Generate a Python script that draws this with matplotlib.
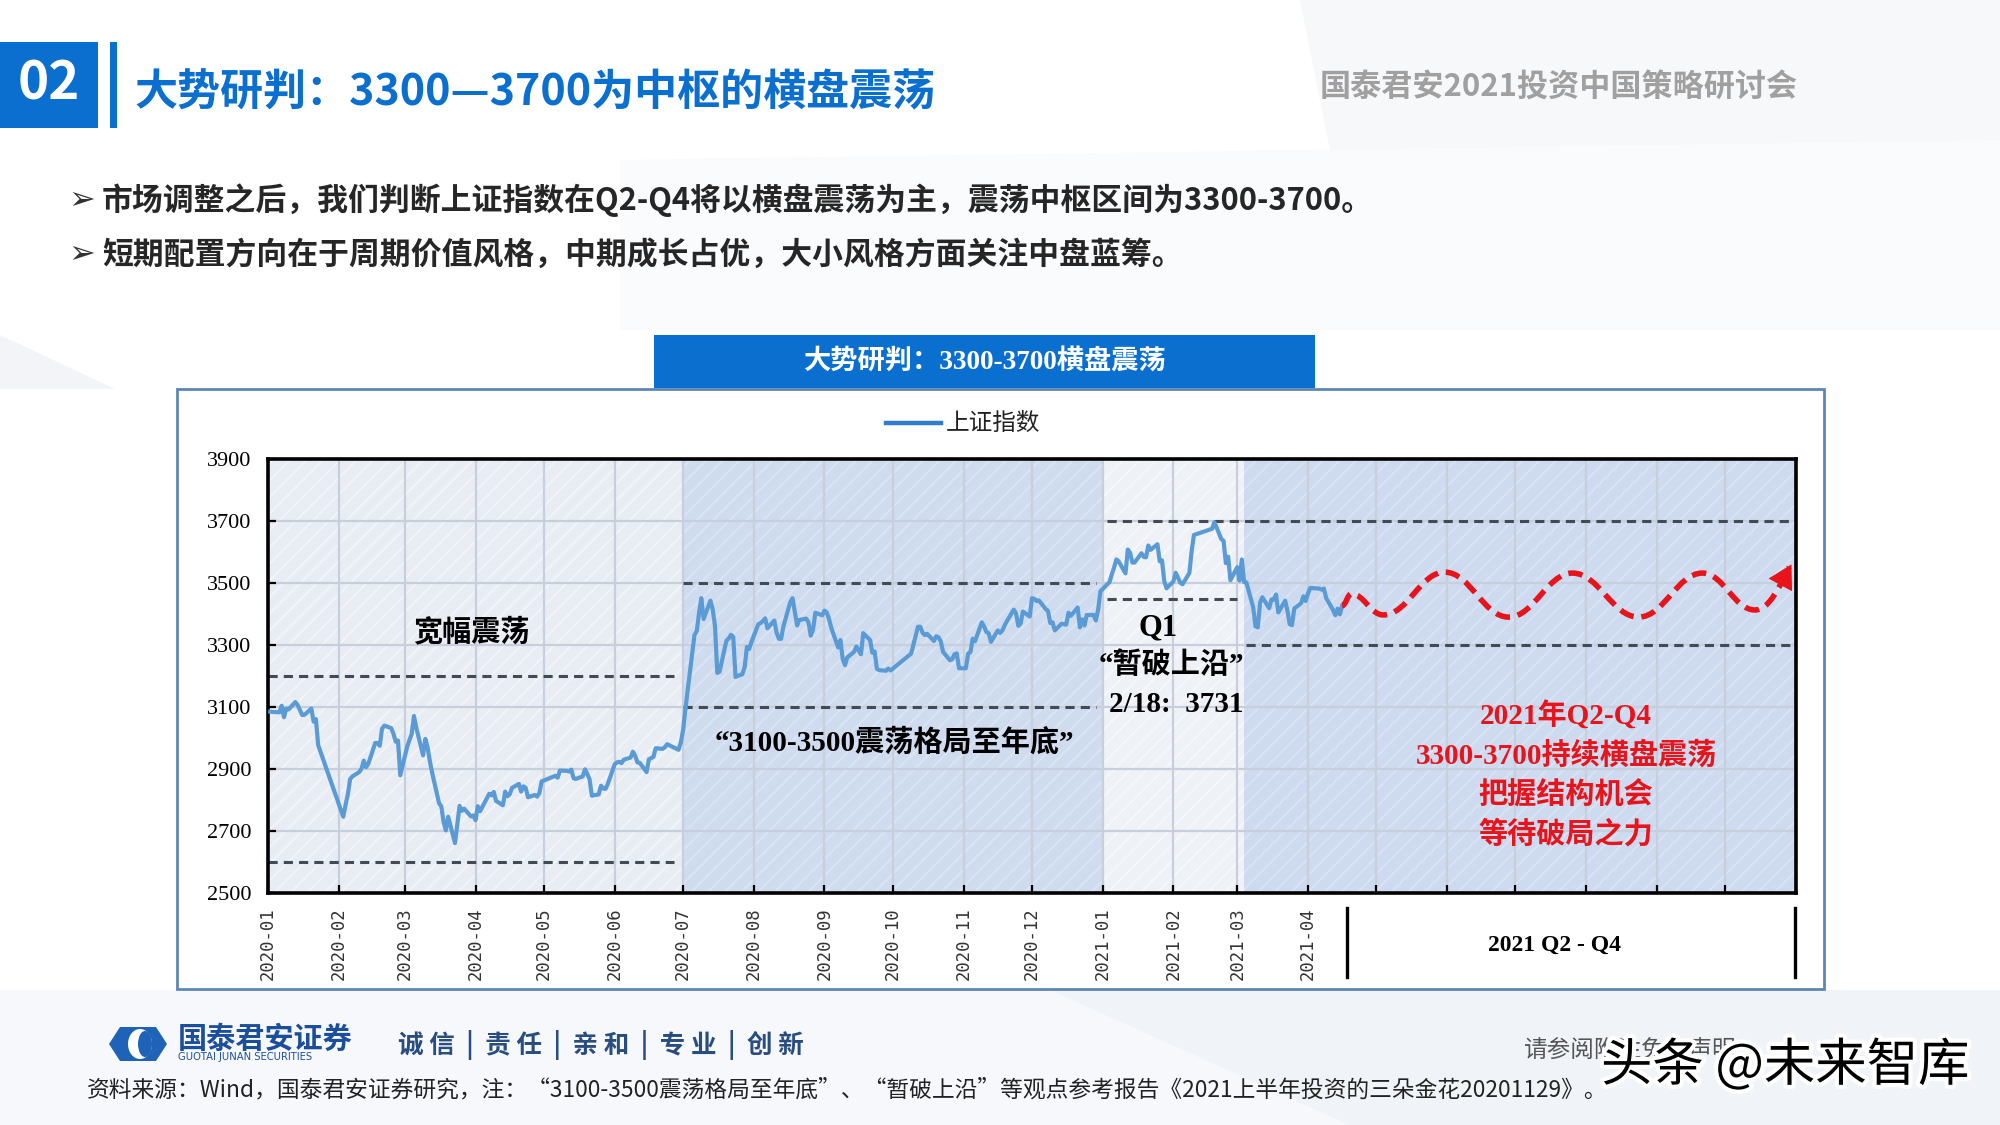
import matplotlib
matplotlib.use("Agg")
import matplotlib.pyplot as plt
import matplotlib.dates as mdates
import matplotlib.patheffects as pe
from matplotlib.lines import Line2D
from matplotlib.patches import Rectangle, Polygon, PathPatch, Ellipse
from matplotlib.path import Path
import pandas as pd

W, H = 2000, 1125
CJK = "Noto Sans CJK SC"
SERIF = ["Liberation Serif", CJK]
BLUE = "#0b6fd0"
RED = "#e8141c"

# ---- 上证指数 closes ----
days_2020h1 = ["01-02", "01-03", "01-06", "01-07", "01-08", "01-09", "01-10", "01-13", "01-14", "01-15",
               "01-16", "01-17", "01-20", "01-21", "01-22", "01-23",
               "02-03", "02-04", "02-05", "02-06", "02-07", "02-10", "02-11", "02-12", "02-13", "02-14",
               "02-17", "02-18", "02-19", "02-20", "02-21", "02-24", "02-25", "02-26", "02-27", "02-28",
               "03-02", "03-03", "03-04", "03-05", "03-06", "03-09", "03-10", "03-11", "03-12", "03-13",
               "03-16", "03-17", "03-18", "03-19", "03-20", "03-23", "03-24", "03-25", "03-26", "03-27",
               "03-30", "03-31",
               "04-01", "04-02", "04-03", "04-07", "04-08", "04-09", "04-10", "04-13", "04-14", "04-15",
               "04-16", "04-17", "04-20", "04-21", "04-22", "04-23", "04-24", "04-27", "04-28", "04-29", "04-30",
               "05-06", "05-07", "05-08", "05-11", "05-12", "05-13", "05-14", "05-15", "05-18", "05-19",
               "05-20", "05-21", "05-22", "05-25", "05-26", "05-27", "05-28", "05-29",
               "06-01", "06-02", "06-03", "06-04", "06-05", "06-08", "06-09", "06-10", "06-11", "06-12",
               "06-15", "06-16", "06-17", "06-18", "06-19", "06-22", "06-23", "06-24", "06-29", "06-30"]
close_2020h1 = [3085, 3084, 3083, 3104, 3067, 3095, 3092, 3116, 3106, 3090,
                3074, 3075, 3095, 3053, 3061, 2977,
                2746, 2784, 2818, 2867, 2876, 2890, 2901, 2927, 2906, 2917,
                2984, 2984, 2975, 3030, 3040, 3032, 3014, 2988, 2992, 2880,
                2971, 2993, 3012, 3071, 3034, 2944, 2997, 2969, 2924, 2887,
                2790, 2779, 2729, 2702, 2746, 2661, 2722, 2781, 2765, 2772,
                2747, 2750,
                2735, 2780, 2764, 2820, 2815, 2826, 2797, 2783, 2827, 2812,
                2819, 2839, 2852, 2827, 2844, 2839, 2809, 2816, 2811, 2822, 2860,
                2878, 2872, 2895, 2894, 2892, 2898, 2870, 2868, 2876, 2899,
                2884, 2867, 2814, 2818, 2846, 2837, 2836, 2852,
                2915, 2921, 2923, 2919, 2930, 2937, 2956, 2943, 2921, 2920,
                2890, 2931, 2935, 2939, 2967, 2965, 2970, 2980, 2962, 2985]

days_2020h2 = ["07-01", "07-02", "07-03", "07-06", "07-07", "07-08", "07-09", "07-10", "07-13", "07-14",
               "07-15", "07-16", "07-17", "07-20", "07-21", "07-22", "07-23", "07-24", "07-27", "07-28",
               "07-29", "07-30", "07-31",
               "08-03", "08-04", "08-05", "08-06", "08-07", "08-10", "08-11", "08-12", "08-13", "08-14",
               "08-17", "08-18", "08-19", "08-20", "08-21", "08-24", "08-25", "08-26", "08-27", "08-28", "08-31",
               "09-01", "09-02", "09-03", "09-04", "09-07", "09-08", "09-09", "09-10", "09-11", "09-14",
               "09-15", "09-16", "09-17", "09-18", "09-21", "09-22", "09-23", "09-24", "09-25", "09-28",
               "09-29", "09-30",
               "10-09", "10-12", "10-13", "10-14", "10-15", "10-16", "10-19", "10-20", "10-21", "10-22",
               "10-23", "10-26", "10-27", "10-28", "10-29", "10-30",
               "11-02", "11-03", "11-04", "11-05", "11-06", "11-09", "11-10", "11-11", "11-12", "11-13",
               "11-16", "11-17", "11-18", "11-19", "11-20", "11-23", "11-24", "11-25", "11-26", "11-27", "11-30",
               "12-01", "12-02", "12-03", "12-04", "12-07", "12-08", "12-09", "12-10", "12-11", "12-14",
               "12-15", "12-16", "12-17", "12-18", "12-21", "12-22", "12-23", "12-24", "12-25", "12-28",
               "12-29", "12-30", "12-31"]
close_2020h2 = [3025, 3091, 3153, 3332, 3345, 3403, 3451, 3384, 3443, 3415,
                3361, 3210, 3214, 3314, 3321, 3333, 3326, 3197, 3206, 3228,
                3294, 3287, 3310,
                3367, 3371, 3377, 3386, 3354, 3379, 3340, 3320, 3320, 3360,
                3438, 3451, 3408, 3363, 3381, 3385, 3373, 3330, 3350, 3404, 3396,
                3411, 3405, 3384, 3355, 3292, 3316, 3255, 3235, 3260, 3278,
                3295, 3283, 3270, 3338, 3316, 3275, 3279, 3223, 3219, 3217,
                3224, 3218,
                3272, 3359, 3359, 3340, 3332, 3336, 3313, 3328, 3325, 3312,
                3278, 3251, 3254, 3270, 3273, 3225,
                3225, 3272, 3277, 3320, 3312, 3373, 3360, 3342, 3338, 3310,
                3347, 3339, 3347, 3363, 3377, 3414, 3402, 3362, 3369, 3408, 3392,
                3451, 3449, 3442, 3444, 3416, 3410, 3371, 3373, 3347, 3369,
                3367, 3366, 3404, 3394, 3421, 3357, 3383, 3363, 3397, 3397,
                3379, 3414, 3473]

days_2021 = ["01-04", "01-05", "01-06", "01-07", "01-08", "01-11", "01-12", "01-13", "01-14", "01-15",
             "01-18", "01-19", "01-20", "01-21", "01-22", "01-25", "01-26", "01-27", "01-28", "01-29",
             "02-01", "02-02", "02-03", "02-04", "02-05", "02-08", "02-09", "02-10", "02-18", "02-19",
             "02-22", "02-23", "02-24", "02-25", "02-26",
             "03-01", "03-02", "03-03", "03-04", "03-05", "03-08", "03-09", "03-10", "03-11", "03-12",
             "03-15", "03-16", "03-17", "03-18", "03-19", "03-22", "03-23", "03-24", "03-25", "03-26",
             "03-29", "03-30", "03-31",
             "04-01", "04-02", "04-06", "04-07", "04-08", "04-09", "04-12", "04-13", "04-14", "04-15", "04-16"]
close_2021 = [3503, 3528, 3550, 3576, 3570, 3531, 3608, 3598, 3566, 3566,
              3596, 3584, 3583, 3621, 3607, 3625, 3570, 3573, 3506, 3483,
              3505, 3533, 3518, 3501, 3496, 3532, 3603, 3655, 3675, 3696,
              3642, 3636, 3564, 3585, 3509,
              3551, 3508, 3576, 3503, 3502, 3421, 3360, 3357, 3436, 3454,
              3419, 3447, 3446, 3463, 3405, 3443, 3411, 3367, 3364, 3418,
              3435, 3457, 3442,
              3466, 3484, 3482, 3479, 3482, 3451, 3413, 3396, 3417, 3399, 3427]

# projected path for Q2-Q4 (turning points of the red dashed wave)
wave_dates = ["2021-04-16", "2021-04-20", "2021-05-04", "2021-05-31", "2021-06-28",
              "2021-07-26", "2021-08-24", "2021-09-21", "2021-10-14", "2021-10-29"]
wave_vals = [3427, 3465, 3397, 3535, 3390, 3532, 3390, 3532, 3413, 3552]

month_ticks = pd.date_range("2020-01-01", "2021-11-01", freq="MS")
tick_labels = [d.strftime("%Y-%m") if d <= pd.Timestamp("2021-04-01") else "" for d in month_ticks]

# (start, end, value) for the dashed band lines
band_lines = [("2020-01-01", "2020-06-27", 3200), ("2020-01-01", "2020-06-27", 2600),
              ("2020-07-01", "2020-12-29", 3500), ("2020-07-01", "2020-12-29", 3100),
              ("2021-01-03", "2021-11-01", 3700), ("2021-01-03", "2021-03-01", 3450),
              ("2021-03-05", "2021-11-01", 3300)]

# (start, end, fill, stripe)
shade = [("2020-01-01", "2020-07-01", "#e8ecf3", "#f2f4f8"),
         ("2020-07-01", "2021-01-01", "#cfdcef", "#dbe4f3"),
         ("2021-01-01", "2021-03-04", "#eef1f6", "#f7f8fb"),
         ("2021-03-04", "2021-11-01", "#cddaef", "#d9e3f3")]


def num(dates):
    return mdates.date2num(pd.to_datetime(dates))


def fxy(x, y):
    return x / W, 1 - y / H


plt.rcParams["hatch.linewidth"] = 0.7
fig = plt.figure(figsize=(10, 5.625), dpi=200)
fig.patch.set_facecolor("white")


def put(x, y, s, **kw):
    kw.setdefault("family", CJK)
    return fig.text(*fxy(x, y), s, **kw)


def frect(x0, y0, x1, y1, **kw):
    r = Rectangle(fxy(x0, y1), (x1 - x0) / W, (y1 - y0) / H, transform=fig.transFigure, **kw)
    fig.patches.append(r)
    return r


def fpoly(pts, **kw):
    p = Polygon([fxy(x, y) for x, y in pts], closed=True, transform=fig.transFigure, **kw)
    fig.patches.append(p)


# faint slide decoration
fpoly([(1300, 0), (2000, 0), (2000, 160), (1330, 150)], color="#f7f8fa", zorder=-3, lw=0)
fpoly([(620, 160), (2000, 140), (2000, 330), (620, 330)], color="#fafbfd", zorder=-3, lw=0)
fpoly([(0, 335), (115, 389), (0, 389)], color="#f2f4f7", zorder=-3, lw=0)
fpoly([(0, 990), (2000, 990), (2000, 1125), (0, 1125)], color="#f6f8fb", zorder=-3, lw=0)
fpoly([(1050, 990), (2000, 990), (2000, 1125), (1350, 1125)], color="#f0f4f8", zorder=-3, lw=0)

# header
frect(0, 42, 98, 128, color=BLUE, lw=0)
frect(110, 42, 117, 128, color=BLUE, lw=0)
put(49, 84, "02", color="white", fontsize=19, weight="bold", ha="center", va="center")
put(134, 92, "大势研判：3300—3700为中枢的横盘震荡", color=BLUE, fontsize=15.5, weight="bold",
    ha="left", va="center")
put(1320, 87, "国泰君安2021投资中国策略研讨会", color="#a0a0a0", fontsize=11.2, weight="bold",
    ha="left", va="center")

bullets = ["市场调整之后，我们判断上证指数在Q2-Q4将以横盘震荡为主，震荡中枢区间为3300-3700。",
           "短期配置方向在于周期价值风格，中期成长占优，大小风格方面关注中盘蓝筹。"]
for i, b in enumerate(bullets):
    y = 200 + i * 55
    put(68, y, "➢", family="DejaVu Sans", color="#333333", fontsize=11.5, ha="left", va="center")
    put(102, y, b, color="#262626", fontsize=11.1, weight="bold", ha="left", va="center")

# chart frame and title box
frect(177, 389, 1824, 989, facecolor="white", edgecolor="#5d87b3", lw=1.0, zorder=-1)
frect(654, 335, 1315, 388, color=BLUE, lw=0, zorder=-1)
put(985, 362, "大势研判：3300-3700横盘震荡", family=SERIF, color="white", fontsize=9.8,
    weight="bold", ha="center", va="center")

# legend
fig.lines.append(Line2D([886 / W, 941 / W], [1 - 423 / H] * 2, transform=fig.transFigure,
                        color="#2e7bcf", lw=1.6))
put(946, 423, "上证指数", color="#222222", fontsize=8.5, ha="left", va="center")

# ---- axes ----
ax = fig.add_axes([268 / W, 1 - 893 / H, (1796 - 268) / W, (893 - 459) / H])
ax.set_xlim(num(["2020-01-01"])[0], num(["2021-11-01"])[0])
ax.set_ylim(2500, 3900)

for s, e, face, stripe in shade:
    x0, x1 = num([s, e])
    ax.axvspan(x0, x1, facecolor=face, edgecolor="none", lw=0, zorder=0)
    ax.axvspan(x0, x1, facecolor="none", edgecolor=stripe, hatch="////", lw=0, zorder=0.1)

ax.set_axisbelow(True)
ax.grid(True, color="#c6cfdb", lw=0.8)
ax.set_xticks(mdates.date2num(month_ticks))
ax.set_xticklabels(tick_labels, rotation=90, family="DejaVu Sans Mono", fontsize=6.2, color="#333333")
ax.set_yticks(range(2500, 3901, 200))
ax.set_yticklabels([str(v) for v in range(2500, 3901, 200)], family="Liberation Serif", fontsize=8)
ax.tick_params(axis="x", direction="in", length=3, width=0.8, pad=5)
ax.tick_params(axis="y", direction="in", length=3, width=0.8, pad=6)
for sp in ax.spines.values():
    sp.set_linewidth(1.3)
    sp.set_color("black")

for s, e, v in band_lines:
    x0, x1 = num([s, e])
    ax.hlines(v, x0, x1, colors="#414a55", linestyles=(0, (3, 2)), lw=1.1, zorder=2)

sh_x = list(num(["2020-" + d for d in days_2020h1])) + list(num(["2020-" + d for d in days_2020h2])) \
    + list(num(["2021-" + d for d in days_2021]))
sh_y = close_2020h1 + close_2020h2 + close_2021
ax.plot(sh_x, sh_y, color="#5b9bd5", lw=1.5, zorder=3, solid_joinstyle="round")

# red projected wave (cubic segments between turning points)
wx = num(wave_dates)
verts = [(wx[0], wave_vals[0])]
codes = [Path.MOVETO]
for i in range(1, len(wx)):
    x0, y0, x1, y1 = wx[i - 1], wave_vals[i - 1], wx[i], wave_vals[i]
    dx = x1 - x0
    c2 = (x1 - 0.4 * dx, y1) if i < len(wx) - 1 else (x1 - 0.3 * dx, y1 - 0.5 * (y1 - y0))
    verts += [(x0 + 0.4 * dx, y0), c2, (x1, y1)]
    codes += [Path.CURVE4] * 3
ax.add_patch(PathPatch(Path(verts, codes), fill=False, edgecolor=RED, lw=2.0,
                       linestyle=(0, (2.6, 1.4)), zorder=4))
ax.annotate("", xy=(wx[-1] + 1, wave_vals[-1] + 8), xytext=(wx[-1] - 4, wave_vals[-1] - 60),
            arrowprops=dict(arrowstyle="-|>,head_length=0.7,head_width=0.4", color=RED, lw=0,
                            shrinkA=0, shrinkB=0, mutation_scale=12), zorder=5)

# annotations
put(471, 631, "宽幅震荡", color="black", fontsize=10.5, weight="bold", ha="center", va="center")
put(894, 742, "“3100-3500震荡格局至年底”", family=SERIF, color="black", fontsize=10.5,
    weight="bold", ha="center", va="center")
put(1158, 628, "Q1", family=SERIF, color="black", fontsize=11, weight="bold", ha="center", va="center")
put(1171, 665, "“暂破上沿”", family=SERIF, color="black", fontsize=10.5, weight="bold",
    ha="center", va="center")
put(1176, 705, "2/18:  3731", family=SERIF, color="black", fontsize=10.5, weight="bold",
    ha="center", va="center")
red_lines = ["2021年Q2-Q4", "3300-3700持续横盘震荡", "把握结构机会", "等待破局之力"]
for i, t in enumerate(red_lines):
    put(1566, 716 + i * 39.5, t, family=SERIF, color=RED, fontsize=10.5, weight="bold",
        ha="center", va="center")

# Q2-Q4 bracket under the axis
for x in (1347, 1795):
    fig.lines.append(Line2D([x / W] * 2, [1 - 908 / H, 1 - 977 / H], transform=fig.transFigure,
                            color="black", lw=1.2))
put(1555, 945, "2021 Q2 - Q4", family="Liberation Serif", color="black", fontsize=8.5,
    weight="bold", ha="center", va="center")

# footer
fpoly([(120, 1027), (156, 1027), (167, 1044), (156, 1061), (120, 1061), (109, 1044)],
      color="#1f63b8", lw=0, zorder=1)
fig.patches.append(Ellipse(fxy(140, 1044), 24 / W, 30 / H, transform=fig.transFigure,
                           color="white", lw=0, zorder=2))
fig.patches.append(Ellipse(fxy(145, 1044), 14 / W, 26 / H, transform=fig.transFigure,
                           color="#1f63b8", lw=0, zorder=2))
put(178, 1039, "国泰君安证券", color="#1b4f9c", fontsize=10.5, weight="bold", ha="left", va="center")
put(178, 1057, "GUOTAI JUNAN SECURITIES", family="DejaVu Sans", color="#1b4f9c", fontsize=3.6,
    ha="left", va="center")
put(398, 1045, "诚 信  |  责 任  |  亲 和  |  专 业  |  创 新", color="#2a4d7f", fontsize=9.2,
    weight="bold", ha="left", va="center")
put(1524, 1051, "请参阅附注免责声明", color="#555555", fontsize=8.5, ha="left", va="center")
put(1601, 1066, "头条 @未来智库", color="black", fontsize=18.5, ha="left", va="center",
    path_effects=[pe.withStroke(linewidth=3, foreground="white")])
put(87, 1090, "资料来源：Wind，国泰君安证券研究，注：“3100-3500震荡格局至年底”、“暂破上沿”等观点参考报告"
    "《2021上半年投资的三朵金花20201129》。", color="#222222", fontsize=8.2, ha="left", va="center")

fig.savefig("out.png", dpi=200)
